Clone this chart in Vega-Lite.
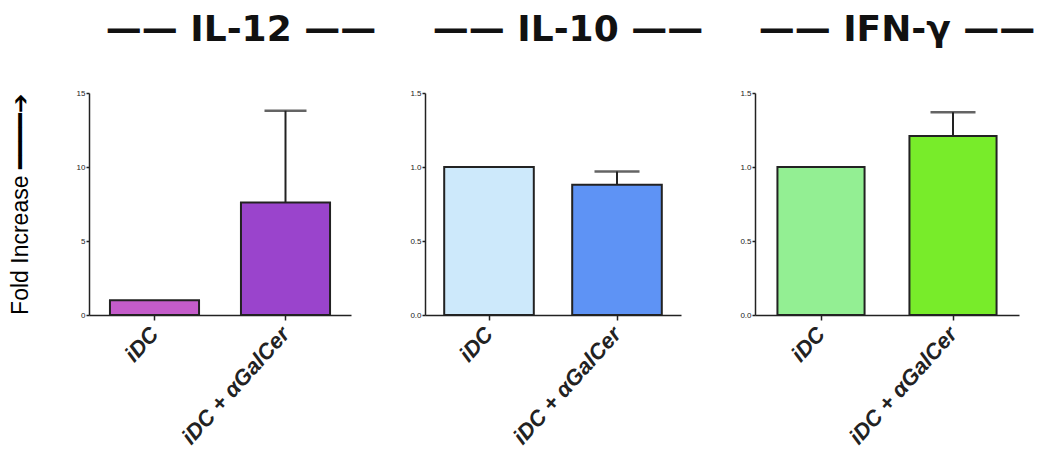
{
  "$schema": "https://vega.github.io/schema/vega-lite/v6.json",
  "background": "white",
  "padding": {"left": 9, "top": 12, "right": 5, "bottom": 5},
  "bounds": "flush",
  "datasets": {
    "bars": [
      {"panel": "IL-12", "group": "iDC", "value": 1.0, "hi": null},
      {"panel": "IL-12", "group": "iDC + αGalCer", "value": 7.6, "hi": 13.8},
      {"panel": "IL-10", "group": "iDC", "value": 1.0, "hi": null},
      {"panel": "IL-10", "group": "iDC + αGalCer", "value": 0.88, "hi": 0.97},
      {"panel": "IFN-γ", "group": "iDC", "value": 1.0, "hi": null},
      {"panel": "IFN-γ", "group": "iDC + αGalCer", "value": 1.21, "hi": 1.37}
    ]
  },
  "config": {
    "view": {"stroke": null},
    "font": "Liberation Sans",
    "axis": {"grid": false, "domainColor": "#222", "tickColor": "#222", "labelColor": "#222", "domainWidth": 1.5, "tickWidth": 1.5},
    "axisX": {"labelAngle": -48, "labelFontSize": 22, "labelFontWeight": "bold", "labelFontStyle": "italic", "tickSize": 5, "labelPadding": 10, "labelFont": "Liberation Sans"},
    "title": {"font": "DejaVu Sans", "fontWeight": "bold", "fontSize": 36, "color": "#111", "anchor": "middle", "offset": 40}
  },
  "resolve": {"scale": {"color": "independent", "y": "independent"}},
  "spacing": 74,
  "hconcat": [
    {
      "width": 262, "height": 222,
      "title": {"text": "——  IL-12  ——", "dx": 21, "dy": 2},
      "data": {"name": "bars"},
      "transform": [{"filter": "datum.panel === 'IL-12'"}],
      "encoding": {
        "x": {"field": "group", "type": "nominal", "sort": null, "title": null,
              "scale": {"paddingInner": 0, "paddingOuter": 0}}
      },
      "layer": [
        {"mark": {"type": "bar", "width": {"band": 0.68}, "stroke": "#222", "strokeWidth": 2},
         "encoding": {
           "y": {"field": "value", "type": "quantitative", "scale": {"domain": [0, 15], "nice": false},
                 "axis": {"values": [0, 5, 10, 15], "labelFontSize": 8, "tickSize": 3, "labelPadding": 1, "title": "Fold Increase   ━━━━➔", "titleFontSize": 23, "titleFontWeight": "normal", "titlePadding": 44}},
           "color": {"field": "group", "type": "nominal", "legend": null, "sort": null,
                     "scale": {"domain": ["iDC", "iDC + αGalCer"], "range": ["#c45cca", "#9a44cc"]}}
         }},
        {"transform": [{"filter": "datum.hi != null"}],
         "mark": {"type": "rule", "color": "#222", "strokeWidth": 2},
         "encoding": {"y": {"field": "value", "type": "quantitative"}, "y2": {"field": "hi"}}},
        {"transform": [{"filter": "datum.hi != null"}],
         "mark": {"type": "tick", "color": "#222", "size": 42, "thickness": 2.5},
         "encoding": {"y": {"field": "hi", "type": "quantitative"}}}
      ]
    },
    {
      "width": 256, "height": 222,
      "title": {"text": "——  IL-10  ——", "dx": 15},
      "data": {"name": "bars"},
      "transform": [{"filter": "datum.panel === 'IL-10'"}],
      "encoding": {
        "x": {"field": "group", "type": "nominal", "sort": null, "title": null,
              "scale": {"paddingInner": 0, "paddingOuter": 0}}
      },
      "layer": [
        {"mark": {"type": "bar", "width": {"band": 0.7}, "stroke": "#222", "strokeWidth": 2},
         "encoding": {
           "y": {"field": "value", "type": "quantitative", "scale": {"domain": [0, 1.5], "nice": false},
                 "axis": {"values": [0, 0.5, 1, 1.5], "format": ".1f", "labelFontSize": 8, "tickSize": 3, "labelPadding": 1, "title": null}},
           "color": {"field": "group", "type": "nominal", "legend": null, "sort": null,
                     "scale": {"domain": ["iDC", "iDC + αGalCer"], "range": ["#cde9fb", "#5e93f5"]}}
         }},
        {"transform": [{"filter": "datum.hi != null"}],
         "mark": {"type": "rule", "color": "#222", "strokeWidth": 2},
         "encoding": {"y": {"field": "value", "type": "quantitative"}, "y2": {"field": "hi"}}},
        {"transform": [{"filter": "datum.hi != null"}],
         "mark": {"type": "tick", "color": "#222", "size": 45, "thickness": 2.5},
         "encoding": {"y": {"field": "hi", "type": "quantitative"}}}
      ]
    },
    {
      "width": 264, "height": 222,
      "title": {"text": "——  IFN-γ  ——", "dx": 10},
      "data": {"name": "bars"},
      "transform": [{"filter": "datum.panel === 'IFN-γ'"}],
      "encoding": {
        "x": {"field": "group", "type": "nominal", "sort": null, "title": null,
              "scale": {"paddingInner": 0, "paddingOuter": 0}}
      },
      "layer": [
        {"mark": {"type": "bar", "width": {"band": 0.66}, "stroke": "#222", "strokeWidth": 2},
         "encoding": {
           "y": {"field": "value", "type": "quantitative", "scale": {"domain": [0, 1.5], "nice": false},
                 "axis": {"values": [0, 0.5, 1, 1.5], "format": ".1f", "labelFontSize": 8, "tickSize": 3, "labelPadding": 1, "title": null}},
           "color": {"field": "group", "type": "nominal", "legend": null, "sort": null,
                     "scale": {"domain": ["iDC", "iDC + αGalCer"], "range": ["#93ef93", "#78ec2a"]}}
         }},
        {"transform": [{"filter": "datum.hi != null"}],
         "mark": {"type": "rule", "color": "#222", "strokeWidth": 2},
         "encoding": {"y": {"field": "value", "type": "quantitative"}, "y2": {"field": "hi"}}},
        {"transform": [{"filter": "datum.hi != null"}],
         "mark": {"type": "tick", "color": "#222", "size": 45, "thickness": 2.5},
         "encoding": {"y": {"field": "hi", "type": "quantitative"}}}
      ]
    }
  ]
}
